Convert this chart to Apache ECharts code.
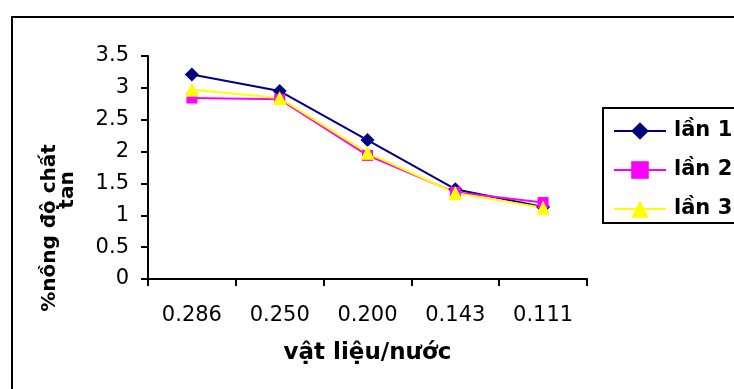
<!DOCTYPE html>
<html>
<head>
<meta charset="utf-8">
<script src="https://cdn.jsdelivr.net/npm/echarts@6/dist/echarts.min.js"></script>
<style>
  html, body { margin: 0; padding: 0; background: #fff; }
  #chart { width: 734px; height: 389px; }
</style>
</head>
<body>
<div id="chart"></div>
<script>
// Ratio of material to water (x categories)
const categories = ['0.286', '0.250', '0.200', '0.143', '0.111'];
// Dissolved-solids concentration (%) per trial
const lan1 = [3.21, 2.95, 2.18, 1.41, 1.13];
const lan2 = [2.84, 2.82, 1.94, 1.36, 1.20];
const lan3 = [2.97, 2.84, 1.98, 1.35, 1.12];
const seriesNames = ['lần 1', 'lần 2', 'lần 3'];
const yTitleLines = ['%nồng độ chất', 'tan'];
const xTitle = 'vật liệu/nước';

const FONT = 'DejaVu Sans';
const chart = echarts.init(document.getElementById('chart'), null, { renderer: 'canvas' });

function lineSeries(name, data, color, symbol, size) {
  return {
    name: name,
    type: 'line',
    data: data,
    symbol: symbol,
    symbolSize: size,
    showAllSymbol: true,
    lineStyle: { color: color, width: 2 },
    itemStyle: { color: color, borderWidth: 0 },
    emphasis: { disabled: true },
    animation: false
  };
}

chart.setOption({
  animation: false,
  backgroundColor: '#ffffff',
  grid: { left: 148, right: 147, top: 56, bottom: 110, containLabel: false },
  xAxis: {
    type: 'category',
    data: categories,
    boundaryGap: true,
    name: xTitle,
    nameLocation: 'middle',
    nameGap: 63,
    nameTextStyle: { fontFamily: FONT, fontSize: 23, fontWeight: 'bold', color: '#000' },
    axisLine: { lineStyle: { color: '#000', width: 2 } },
    axisTick: { show: true, length: 7, interval: 0, alignWithLabel: false, lineStyle: { color: '#000', width: 2 } },
    axisLabel: { fontFamily: FONT, fontSize: 21, color: '#000', margin: 26, interval: 0 },
    splitLine: { show: false }
  },
  yAxis: {
    type: 'value',
    min: 0,
    max: 3.5,
    interval: 0.5,
    axisLine: { show: true, lineStyle: { color: '#000', width: 2 } },
    axisTick: { show: true, length: 7, lineStyle: { color: '#000', width: 2 } },
    axisLabel: { fontFamily: FONT, fontSize: 21, color: '#000', margin: 19 },
    splitLine: { show: false }
  },
  legend: {
    orient: 'vertical',
    left: 613,
    top: 120,
    padding: 0,
    itemWidth: 52,
    itemHeight: 22,
    itemGap: 17,
    selectedMode: false,
    lineStyle: { width: 2 },
    textStyle: { fontFamily: FONT, fontSize: 21, fontWeight: 'bold', color: '#000', lineHeight: 22, padding: [0, 0, 0, 3] },
    data: seriesNames
  },
  graphic: [
    {
      type: 'rect',
      shape: { x: 12, y: 17, width: 800, height: 450 },
      style: { fill: null, stroke: '#000', lineWidth: 2 },
      silent: true
    },
    {
      type: 'rect',
      shape: { x: 603, y: 108, width: 200, height: 115 },
      style: { fill: null, stroke: '#000', lineWidth: 2 },
      silent: true
    },
    {
      type: 'text',
      x: 50, y: 228,
      rotation: Math.PI / 2,
      style: { text: yTitleLines[0], fontFamily: FONT, fontSize: 20, fontWeight: 'bold', fill: '#000', align: 'center', verticalAlign: 'middle' },
      silent: true
    },
    {
      type: 'text',
      x: 68, y: 190,
      rotation: Math.PI / 2,
      style: { text: yTitleLines[1], fontFamily: FONT, fontSize: 20, fontWeight: 'bold', fill: '#000', align: 'center', verticalAlign: 'middle' },
      silent: true
    }
  ],
  series: [
    lineSeries(seriesNames[0], lan1, '#000080', 'diamond', 14),
    lineSeries(seriesNames[1], lan2, '#ff00ff', 'rect', 11),
    lineSeries(seriesNames[2], lan3, '#ffff00', 'triangle', 14)
  ]
});
</script>
</body>
</html>
